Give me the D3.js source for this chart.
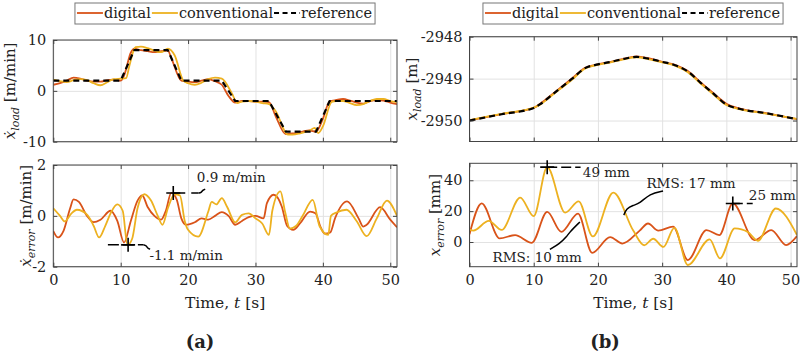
<!DOCTYPE html>
<html>
<head>
<meta charset="utf-8">
<script src="https://cdn.jsdelivr.net/npm/d3@7"></script>
<style>
  body { margin: 0; background: #fff; }
  svg { font-family: "DejaVu Serif", serif; }
</style>
</head>
<body>
<svg id="chart" width="800" height="354"></svg>
<script>
// ---------------- data ----------------
// (a) top: load velocity [m/min]
const velRefT = [0, 10, 12, 17, 19, 25, 27, 32, 34.5, 39, 41, 51];
const velRefV = [2, 2, 8, 8, 2, 2, -2, -2, -8, -8, -2, -2];

const velDigT = [0, 1, 2, 3, 4, 5, 6, 7, 8, 9, 10, 10.5, 11.5, 12, 13, 14, 15, 16, 17, 17.5, 19, 20, 21, 22, 23, 24, 25, 26, 27, 28, 29, 30, 31, 32, 33, 34.5, 35, 36, 37, 38, 39, 40, 41, 42, 43, 44, 45, 46, 47, 48, 49, 50, 51];
const velDigV = [1.2, 1.5, 2.0, 2.6, 2.4, 2.0, 1.8, 1.8, 2.1, 2.2, 2.0, 3.0, 7.5, 8.3, 8.0, 7.8, 7.6, 7.8, 7.9, 6.5, 2.0, 1.8, 1.7, 2.0, 2.3, 1.9, 1.2, -1.0, -2.3, -2.0, -2.0, -2.1, -2.1, -2.2, -5.0, -8.5, -8.4, -8.3, -8.0, -7.8, -8.0, -5.5, -2.1, -1.8, -1.6, -1.9, -2.3, -2.5, -2.0, -1.8, -1.9, -2.3, -2.6];

const velConT = [0, 1, 2, 3, 4, 5, 6, 7, 8, 9, 10, 10.8, 11.3, 12.2, 13, 14, 15, 16, 17, 18, 19.3, 20, 21, 22, 23, 24, 25, 26.5, 27.3, 28, 29, 30, 31, 32, 33, 34.8, 35.5, 36.5, 38, 38.8, 39.3, 40, 41.3, 42, 43, 44, 45, 46, 47, 48, 49, 50, 51];
const velConV = [2.2, 1.9, 1.7, 2.1, 2.3, 2.1, 1.5, 1.1, 1.7, 2.3, 2.4, 2.5, 5.0, 8.6, 8.7, 8.4, 7.9, 7.6, 8.3, 7.0, 2.0, 1.5, 1.2, 1.6, 2.3, 2.6, 2.4, -0.5, -2.4, -2.1, -2.0, -2.1, -2.4, -2.6, -4.0, -8.6, -8.6, -8.4, -7.8, -7.3, -8.3, -7.0, -2.2, -2.0, -2.0, -2.4, -2.8, -2.6, -2.0, -1.6, -1.6, -2.0, -2.2];

// (a) bottom: velocity error [m/min]
const velErrDigT = [0, 0.7, 1.5, 2.5, 3, 3.8, 5, 6, 7, 8.5, 9.5, 10.5, 11.5, 12.5, 13.2, 14, 15, 16, 16.7, 17.5, 18.3, 19, 19.7, 21, 22, 23, 24, 25, 26, 27, 28, 29, 30, 31.2, 31.7, 32.7, 33.9, 34.7, 35.6, 36.6, 38.1, 38.9, 39.6, 40.3, 41.1, 41.8, 43.6, 45.3, 46, 46.5, 48.5, 50, 51];
const velErrDigV = [-0.6, -0.85, -0.6, 0.3, 0.65, 0.55, 0.0, -0.25, -0.15, 0.2, -0.2, -1.05, -0.2, 0.6, 0.8, 0.35, 0, -0.15, 0.2, 0.9, 0.65, -0.1, -0.35, -0.25, -0.1, -0.15, 0, 0.15, 0, -0.35, -0.2, -0.05, 0.0, -0.1, 0.5, 0.83, 0.37, -0.4, -0.55, -0.3, 0.17, 0.1, -0.4, -0.7, -0.65, -0.1, 0.57, -0.1, -0.42, -0.35, 0.34, -0.15, -0.45];

const velErrConT = [0, 1, 1.7, 2.7, 3.5, 5, 6, 6.8, 7.7, 8.5, 9.5, 10.3, 11, 11.7, 12.5, 13.5, 14.5, 15.5, 16.2, 17, 18, 18.8, 19.5, 20, 21.5, 23, 23.5, 24.2, 25, 25.8, 27, 28, 29, 30, 31, 32, 32.5, 33.7, 34.4, 35.1, 36, 37, 38.5, 39.5, 40.8, 41.2, 42, 43.5, 45, 46.5, 48, 49.5, 51];
const velErrConV = [0.3, 0.0, -0.22, 0.1, 0.24, 0.05, -0.4, -0.85, -0.4, 0.1, 0.45, 0.2, -1.15, -0.9, 0.3, 0.85, 0.6, 0, -0.35, 0.3, 0.85, 0.8, -0.2, -0.55, -0.82, 0.17, 0.55, 0.45, 0.7, 0.35, -0.26, 0.04, 0.1, -0.1, -0.3, -0.75, 0.2, 0.96, 0.15, -0.5, -0.4, 0, 0.63, -0.4, -0.75, 0.0, 0.13, 0.24, -0.2, -0.8, -0.1, 0.6, 0];

// (b) top: load position [m]
const posT = [0, 5, 10, 11, 13, 16, 18, 20, 22, 24, 26, 28, 30, 32, 34, 36, 38, 40, 42, 46, 51];
const posRefV = [-2950, -2949.85, -2949.7, -2949.61, -2949.37, -2949.0, -2948.75, -2948.66, -2948.6, -2948.53, -2948.48, -2948.53, -2948.6, -2948.68, -2948.83, -2949.1, -2949.36, -2949.62, -2949.72, -2949.82, -2949.97];
const posDigV = [-2949.995, -2949.845, -2949.7, -2949.6, -2949.36, -2948.99, -2948.74, -2948.66, -2948.6, -2948.53, -2948.47, -2948.52, -2948.6, -2948.67, -2948.82, -2949.09, -2949.35, -2949.6, -2949.71, -2949.82, -2949.965];
const posConV = [-2949.99, -2949.84, -2949.69, -2949.62, -2949.38, -2949.02, -2948.76, -2948.67, -2948.61, -2948.54, -2948.49, -2948.54, -2948.61, -2948.69, -2948.85, -2949.12, -2949.38, -2949.63, -2949.73, -2949.83, -2949.96];

// (b) bottom: position error [mm]
const posErrDigT = [0, 1.9, 4.7, 7.1, 9.7, 12.1, 14.3, 16.9, 19.1, 21.9, 23.8, 26.5, 27.8, 29.4, 31.7, 34, 36.9, 38.9, 41, 44.4, 47, 49.3, 51];
const posErrDigV = [5, 25, 2.3, 4.5, -0.5, 19.5, 6.6, 18.4, -7, 3.2, -1, 7.4, 12, 7.4, 10, -11.7, 7.7, 4.5, 25, 1.2, 7.7, -2, 3.8];

const posErrConT = [0, 0.6, 3, 5, 7.9, 10, 12.1, 14.9, 17, 19.2, 22.4, 25.5, 27.2, 28.6, 30.2, 31.9, 34, 37.4, 39, 41.3, 43.4, 44.9, 47.7, 51];
const posErrConV = [8, 7.4, 13.7, 7.8, 28.8, 16.8, 48.5, 19, 26.3, 3.6, 32, 7.4, -2.1, 2.1, -3.2, 9.2, -14.9, 1.7, -10.6, 8.8, 6.3, 0.8, 21.7, 4.5];

const timeTicks = [0, 10, 20, 30, 40, 50];
const legendNames = ['digital', 'conventional', 'reference'];

// ---------------- setup ----------------
const svg = d3.select('#chart');
const cDig = '#D95319', cCon = '#EDB120', cRef = '#000000';
const zip = (t, v) => t.map((d, i) => ({t: d, v: v[i]}));

let clipId = 0;
function makePanel(cfg) {
    const x = d3.scaleLinear().domain([0, 51]).range([cfg.left, cfg.right]);
    const y = d3.scaleLinear().domain(cfg.yDomain).range([cfg.bottom, cfg.top]);
    const g = svg.append('g');
    const h = cfg.bottom - cfg.top, w = cfg.right - cfg.left;

    // grid
    g.append('g').attr('transform', 'translate(0,' + cfg.bottom + ')')
        .call(d3.axisBottom(x).tickValues(timeTicks).tickSize(-h).tickFormat(''))
        .call(s => s.select('.domain').remove())
        .selectAll('line').attr('stroke', '#e2e2e2');
    g.append('g').attr('transform', 'translate(' + cfg.left + ',0)')
        .call(d3.axisLeft(y).tickValues(cfg.yTicks).tickSize(-w).tickFormat(''))
        .call(s => s.select('.domain').remove())
        .selectAll('line').attr('stroke', '#e2e2e2');

    // series (clipped)
    const id = 'clip' + (clipId++);
    g.append('clipPath').attr('id', id).append('rect')
        .attr('x', cfg.left).attr('y', cfg.top).attr('width', w).attr('height', h);
    const plot = g.append('g').attr('clip-path', 'url(#' + id + ')');

    cfg.series.forEach(s => {
        const line = d3.line().x(d => x(d.t)).y(d => y(d.v)).curve(s.curve || d3.curveMonotoneX);
        plot.append('path').datum(s.data)
            .attr('fill', 'none').attr('stroke', s.color)
            .attr('stroke-width', s.width || 1.8)
            .attr('stroke-dasharray', s.dash || null)
            .attr('stroke-linejoin', 'round')
            .attr('d', line);
    });

    // ticks on all four sides, pointing inward
    const tickStyle = s => {
        s.select('.domain').remove();
        s.selectAll('line').attr('stroke', '#444');
        s.selectAll('text').attr('font-size', 14.5).attr('fill', '#222')
            .attr('font-family', '"DejaVu Serif", serif');
    };
    g.append('g').attr('transform', 'translate(0,' + cfg.bottom + ')')
        .call(d3.axisBottom(x).tickValues(timeTicks).tickSizeInner(-4).tickSizeOuter(0).tickPadding(8)
            .tickFormat(cfg.xLabels ? d => String(d) : ''))
        .call(tickStyle);
    g.append('g').attr('transform', 'translate(0,' + cfg.top + ')')
        .call(d3.axisTop(x).tickValues(timeTicks).tickSizeInner(-4).tickSizeOuter(0).tickFormat(''))
        .call(tickStyle);
    g.append('g').attr('transform', 'translate(' + cfg.left + ',0)')
        .call(d3.axisLeft(y).tickValues(cfg.yTicks).tickSizeInner(-4).tickSizeOuter(0).tickPadding(7)
            .tickFormat(d => String(d)))
        .call(tickStyle);
    g.append('g').attr('transform', 'translate(' + cfg.right + ',0)')
        .call(d3.axisRight(y).tickValues(cfg.yTicks).tickSizeInner(-4).tickSizeOuter(0).tickFormat(''))
        .call(tickStyle);

    // box
    g.append('rect').attr('x', cfg.left).attr('y', cfg.top).attr('width', w).attr('height', h)
        .attr('fill', 'none').attr('stroke', '#444').attr('stroke-width', 1);

    // y label
    const lab = g.append('text')
        .attr('transform', 'translate(' + cfg.labelX + ',' + ((cfg.top + cfg.bottom) / 2) + ') rotate(-90)')
        .attr('text-anchor', 'middle').attr('font-size', 15).attr('fill', '#222');
    lab.append('tspan').attr('font-style', 'italic').text(cfg.label[0]);
    lab.append('tspan').attr('font-style', 'italic').attr('font-size', 11).attr('dy', 4).text(cfg.label[1]);
    lab.append('tspan').attr('dy', -4).text(' ' + cfg.label[2]);

    if (cfg.xLabels) {
        g.append('text').attr('x', (cfg.left + cfg.right) / 2).attr('y', cfg.bottom + 41)
            .attr('text-anchor', 'middle').attr('font-size', 15.5).attr('fill', '#222')
            .call(t => {
                t.append('tspan').text('Time, ');
                t.append('tspan').attr('font-style', 'italic').text('t');
                t.append('tspan').text(' [s]');
            });
    }
    return {x, y, g};
}

function legend(cx) {
    const g = svg.append('g');
    const styles = [
        {color: cDig, dash: null},
        {color: cCon, dash: null},
        {color: cRef, dash: '5,3.5'}
    ];
    let pos = 2;
    legendNames.forEach((name, i) => {
        g.append('line').attr('x1', pos).attr('x2', pos + 26).attr('y1', 13).attr('y2', 13)
            .attr('stroke', styles[i].color).attr('stroke-width', 1.8)
            .attr('stroke-dasharray', styles[i].dash);
        pos += 27;
        const t = g.append('text').attr('x', pos).attr('y', 18).attr('font-size', 14.5)
            .attr('fill', '#222').text(name);
        pos += t.node().getComputedTextLength() + 1;
    });
    pos += 2;
    g.insert('rect', ':first-child').attr('x', 0).attr('y', 3).attr('width', pos).attr('height', 21)
        .attr('fill', '#fff').attr('stroke', '#777').attr('stroke-width', 1);
    g.attr('transform', 'translate(' + (cx - pos / 2) + ',0)');
}

function plusMarker(p, t, v) {
    const px = p.x(t), py = p.y(v);
    p.g.append('path').attr('d', d3.line()([[px - 7, py], [px + 7, py]]) + d3.line()([[px, py - 7], [px, py + 7]]))
        .attr('stroke', '#000').attr('stroke-width', 1.6);
}
function leader(p, pts, dash) {
    p.g.append('path').datum(pts)
        .attr('d', d3.line().x(d => p.x(d[0])).y(d => p.y(d[1])).curve(d3.curveBasis))
        .attr('fill', 'none').attr('stroke', '#000').attr('stroke-width', 1.5)
        .attr('stroke-dasharray', dash || null);
}
function note(p, t, v, txt) {
    p.g.append('text').attr('x', p.x(t)).attr('y', p.y(v)).attr('font-size', 13.5)
        .attr('fill', '#222').text(txt);
}

// ---------------- panel (a) ----------------
const aTop = makePanel({
    left: 53.3, right: 397, top: 40, bottom: 141.7,
    yDomain: [-10, 10], yTicks: [-10, 0, 10], labelX: 15,
    label: ['ẋ', 'load', '[m/min]'],
    series: [
        {data: zip(velDigT, velDigV), color: cDig},
        {data: zip(velConT, velConV), color: cCon},
        {data: zip(velRefT, velRefV), color: cRef, dash: '6,4', width: 2.2, curve: d3.curveLinear}
    ]
});
const aBot = makePanel({
    left: 53.3, right: 397, top: 165, bottom: 266.7,
    yDomain: [-2, 2], yTicks: [-2, 0, 2], labelX: 31, xLabels: true,
    label: ['ẋ', 'error', '[m/min]'],
    series: [
        {data: zip(velErrDigT, velErrDigV), color: cDig},
        {data: zip(velErrConT, velErrConV), color: cCon}
    ]
});
plusMarker(aBot, 17.8, 0.9);
leader(aBot, [[17.8, 0.9], [21.55, 0.9]], '12,6');
leader(aBot, [[21.55, 0.9], [21.95, 0.91], [22.17, 1.01], [22.54, 1.05]]);
note(aBot, 21.3, 1.35, '0.9 m/min');
plusMarker(aBot, 11.1, -1.14);
leader(aBot, [[8.1, -1.14], [13.4, -1.14]], '11,4');
leader(aBot, [[13.4, -1.14], [13.77, -1.16], [14.0, -1.28], [14.37, -1.31]]);
note(aBot, 14.26, -1.74, '-1.1 m/min');
legend(225);
svg.append('text').attr('x', 200).attr('y', 348).attr('text-anchor', 'middle')
    .attr('font-size', 18).attr('font-weight', 'bold').attr('fill', '#222').text('(a)');

// ---------------- panel (b) ----------------
const bTop = makePanel({
    left: 469.5, right: 797, top: 36.7, bottom: 141.5,
    yDomain: [-2950.5, -2948], yTicks: [-2950, -2949, -2948], labelX: 417,
    label: ['x', 'load', '[m]'],
    series: [
        {data: zip(posT, posDigV), color: cDig},
        {data: zip(posT, posConV), color: cCon},
        {data: zip(posT, posRefV), color: cRef, dash: '6,4', width: 2.2}
    ]
});
const bBot = makePanel({
    left: 469.5, right: 797, top: 163.3, bottom: 266.7,
    yDomain: [-16, 51], yTicks: [0, 20, 40], labelX: 440, xLabels: true,
    label: ['x', 'error', '[mm]'],
    series: [
        {data: zip(posErrDigT, posErrDigV), color: cDig},
        {data: zip(posErrConT, posErrConV), color: cCon}
    ]
});
plusMarker(bBot, 12.1, 48.5);
leader(bBot, [[12.1, 48.5], [17.3, 48.5]], '10,4');
note(bBot, 17.65, 41.9, '49 mm');
plusMarker(bBot, 41.0, 25);
leader(bBot, [[41.0, 25], [44.1, 25]], '10,4');
note(bBot, 43.5, 27, '25 mm');
leader(bBot, [[30.14, 33.0], [28.07, 31.4], [26.52, 24.9], [25.47, 23.8], [24.45, 21.7], [24.03, 17.4]]);
note(bBot, 27.55, 34.8, 'RMS: 17 mm');
leader(bBot, [[17.19, 13.0], [15.63, 6.6], [15.12, 3.4], [14.07, -0.9], [12.52, -4.8]]);
note(bBot, 3.6, -12.8, 'RMS: 10 mm');
legend(633);
svg.append('text').attr('x', 605).attr('y', 348).attr('text-anchor', 'middle')
    .attr('font-size', 18).attr('font-weight', 'bold').attr('fill', '#222').text('(b)');
</script>
</body>
</html>
